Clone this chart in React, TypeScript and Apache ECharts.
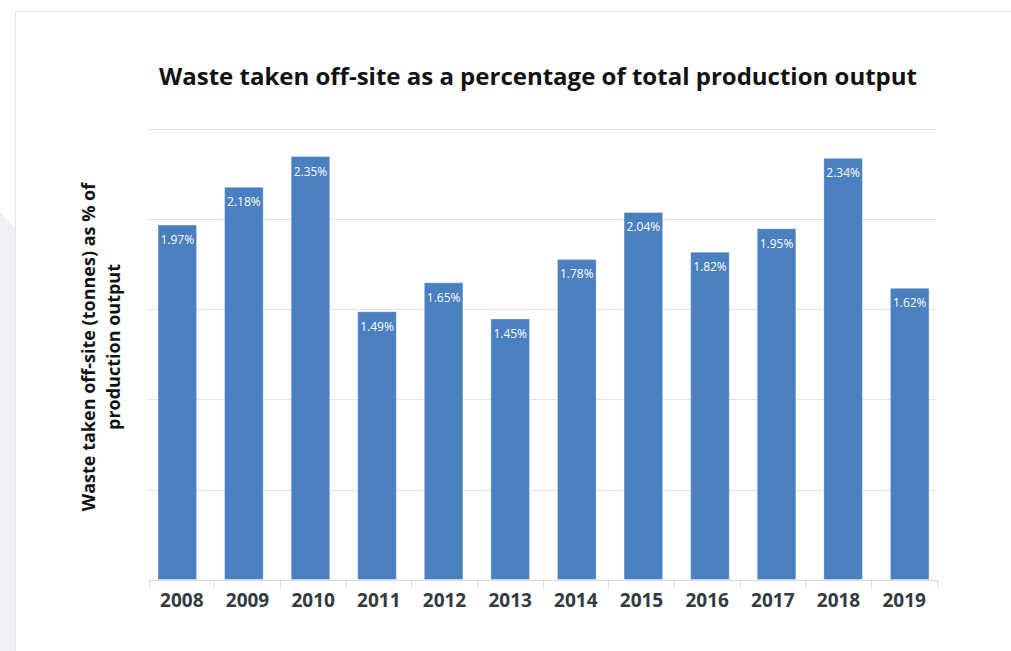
import React, { useEffect, useRef } from "react";
import * as echarts from "echarts";

const years = ["2008", "2009", "2010", "2011", "2012", "2013", "2014", "2015", "2016", "2017", "2018", "2019"];
const wastePct = [1.97, 2.18, 2.35, 1.49, 1.65, 1.45, 1.78, 2.04, 1.82, 1.95, 2.34, 1.62];
const titleText = "Waste taken off-site as a percentage of total production output";
const yAxisTitle = "Waste taken off-site (tonnes) as % of\nproduction output";

export default function App() {
  const ref = useRef<HTMLDivElement>(null);
  useEffect(() => {
    if (!ref.current) return;
    const chart = echarts.init(ref.current, null, { renderer: "svg" });
    chart.setOption({
      animation: false,
      backgroundColor: "#ffffff",
      title: {
        text: titleText,
        left: 533,
        textAlign: "center",
        top: 58,
        textStyle: { fontFamily: "Open Sans", fontWeight: "bold", fontSize: 24, color: "#111111" },
      },
      graphic: [
        {
          type: "polygon",
          silent: true,
          z: -10,
          shape: { points: [[0, 212], [15, 228], [15, 651], [0, 651]] },
          style: { fill: "#eef0f3" },
        },
        {
          type: "rect",
          silent: true,
          z: -9,
          shape: { x: 15.5, y: 11.5, width: 1100, height: 700 },
          style: { fill: "#ffffff", stroke: "#e6e6e0", lineWidth: 1 },
        },
        {
          type: "text",
          x: 100,
          y: 347,
          rotation: Math.PI / 2,
          style: {
            text: yAxisTitle,
            fontFamily: "Open Sans",
            fontWeight: "bold",
            fontSize: 18,
            lineHeight: 25,
            fill: "#111111",
            align: "center",
            verticalAlign: "middle",
          },
        },
      ],
      grid: [
        { left: 149, right: 74, top: 129, bottom: 71, containLabel: false },
        { left: 144, right: 68, top: 129, bottom: 71, containLabel: false },
      ],
      xAxis: [
        {
          type: "category",
          gridIndex: 0,
          data: years,
          axisLine: { lineStyle: { color: "#dcdcdc" } },
          axisTick: { show: true, length: 8, lineStyle: { color: "#dcdcdc" } },
          axisLabel: {
            fontFamily: "Open Sans",
            fontWeight: "bold",
            fontSize: 19,
            color: "#333a42",
            margin: 10,
          },
        },
        {
          type: "category",
          gridIndex: 1,
          data: years,
          show: false,
        },
      ],
      yAxis: [
        {
          type: "value",
          gridIndex: 0,
          min: 0,
          max: 2.5,
          interval: 0.5,
          axisLabel: { show: false },
          axisLine: { show: false },
          axisTick: { show: false },
          splitLine: { lineStyle: { color: "#e6e2de" } },
        },
        {
          type: "value",
          gridIndex: 1,
          min: 0,
          max: 2.5,
          interval: 0.5,
          show: false,
          splitLine: { show: false },
        },
      ],
      series: [
        {
          type: "bar",
          xAxisIndex: 1,
          yAxisIndex: 1,
          data: wastePct,
          barWidth: "59.5%",
          z: 3,
          itemStyle: { color: "#4a80c0", borderColor: "rgba(255,255,255,0.35)", borderWidth: 1 },
          label: {
            show: true,
            position: "insideTop",
            distance: 9,
            formatter: (p: any) => p.value.toFixed(2) + "%",
            color: "#ffffff",
            fontFamily: "Open Sans",
            fontSize: 12,
          },
        },
      ],
    });
    return () => chart.dispose();
  }, []);
  return (
    <div
      ref={ref}
      style={{ position: "fixed", left: 0, top: 0, width: 1011, height: 651 }}
    />
  );
}
